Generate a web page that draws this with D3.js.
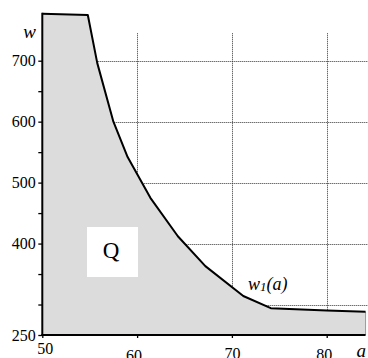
<!DOCTYPE html>
<html>
<head>
<meta charset="utf-8">
<script src="https://cdn.jsdelivr.net/npm/d3@7"></script>
</head>
<body style="margin:0">
<script>
// boundary curve w1(a)
const aVals = [50, 54.8, 55.8, 57.5, 59, 61.4, 64.3, 67.2, 71.2, 74.1, 80, 84.1];
const wVals = [777, 775, 696, 600, 542, 475, 412, 363, 314, 294, 290, 288];

const yTicks = [250, 300, 350, 400, 450, 500, 550, 600, 650, 700];
const yLabels = [250, 400, 500, 600, 700];
const xTicks = [50, 60, 70, 80];
const gridA = [60, 70, 80];
const gridW = [300, 400, 500, 600, 700];

const width = 368, height = 358;
const serif = '"Liberation Serif"';
const pts = aVals.map((a, i) => ({a: a, w: wVals[i]}));

const x = d3.scaleLinear().domain([50, 80]).range([42.3, 326.7]);
const y = d3.scaleLinear().domain([250, 700]).range([335, 60.7]);

const svg = d3.select("body").append("svg")
  .attr("width", width)
  .attr("height", height)
  .style("display", "block");

// dotted grid, sits under the shaded region
const grid = svg.append("g")
  .attr("stroke", "#333")
  .attr("stroke-width", 1)
  .attr("stroke-dasharray", "1,1");

grid.selectAll("line.v")
  .data(gridA)
  .join("line")
  .attr("class", "v")
  .attr("x1", d => Math.round(x(d)) + 0.5)
  .attr("x2", d => Math.round(x(d)) + 0.5)
  .attr("y1", y(745))
  .attr("y2", y(250));

grid.selectAll("line.h")
  .data(gridW)
  .join("line")
  .attr("class", "h")
  .attr("x1", x(50))
  .attr("x2", x(86))
  .attr("y1", d => Math.round(y(d)) + 0.5)
  .attr("y2", d => Math.round(y(d)) + 0.5);

// region Q
const area = d3.area()
  .x(d => x(d.a))
  .y0(y(250))
  .y1(d => y(d.w));

svg.append("path")
  .datum(pts)
  .attr("d", area)
  .attr("fill", "#dcdcdc");

const last = pts[pts.length - 1];
svg.append("line")
  .attr("x1", x(last.a)).attr("x2", x(last.a))
  .attr("y1", y(last.w)).attr("y2", y(250))
  .attr("stroke", "#999")
  .attr("stroke-width", 1);

// label box
svg.append("rect")
  .attr("x", 87)
  .attr("y", 227)
  .attr("width", 51)
  .attr("height", 50)
  .attr("fill", "#fff");

svg.append("text")
  .attr("x", 111)
  .attr("y", 258)
  .attr("text-anchor", "middle")
  .attr("font-size", 23)
  .text("Q");

// curve
const line = d3.line()
  .x(d => x(d.a))
  .y(d => y(d.w));

svg.append("path")
  .datum(pts)
  .attr("d", line)
  .attr("fill", "none")
  .attr("stroke", "#000")
  .attr("stroke-width", 2)
  .attr("stroke-linejoin", "round");

// axes
const yAxis = svg.append("g")
  .attr("transform", `translate(${x(50)},0)`)
  .call(d3.axisLeft(y)
    .tickValues(yTicks)
    .tickSize(4)
    .tickSizeOuter(0)
    .tickFormat(d => yLabels.includes(d) ? d : ""));
yAxis.select(".domain").remove();
yAxis.selectAll("line").attr("stroke", "#000").attr("stroke-width", 1.3);
yAxis.selectAll("text")
  .attr("x", -6.5)
  .attr("font-size", 16);

const xShift = {50: [2.4, 2], 60: [-3.5, 8.5], 70: [0, 6.5], 80: [-3, 7.5]};
const xAxis = svg.append("g")
  .attr("transform", `translate(0,${y(250)})`)
  .call(d3.axisBottom(x)
    .tickValues(xTicks)
    .tickSize(3)
    .tickSizeOuter(0));
xAxis.select(".domain").remove();
xAxis.selectAll("line").attr("stroke", "#000").attr("stroke-width", 1.3);
xAxis.selectAll("text")
  .attr("transform", d => `translate(${xShift[d][0]},${xShift[d][1]})`)
  .attr("font-size", 16);

svg.append("line")
  .attr("x1", x(50)).attr("x2", x(50))
  .attr("y1", y(wVals[0]) - 1).attr("y2", y(250) + 1)
  .attr("stroke", "#000").attr("stroke-width", 2);

svg.append("line")
  .attr("x1", x(50) - 1).attr("x2", x(last.a))
  .attr("y1", y(250)).attr("y2", y(250))
  .attr("stroke", "#000").attr("stroke-width", 2);

// axis names
svg.append("text")
  .attr("x", 36)
  .attr("y", 38)
  .attr("text-anchor", "end")
  .attr("font-size", 19)
  .attr("font-style", "italic")
  .text("w");

svg.append("text")
  .attr("x", 356.5)
  .attr("y", 357)
  .attr("font-size", 19)
  .attr("font-style", "italic")
  .text("a");

const wl = svg.append("text")
  .attr("x", 248)
  .attr("y", 290)
  .attr("font-size", 18)
  .attr("font-style", "italic");
wl.append("tspan").text("w");
wl.append("tspan").attr("dy", 1).attr("font-size", 13).text("1");
wl.append("tspan").attr("dy", -1).text("(a)");

svg.selectAll("g").attr("font-family", null).attr("font-size", null);
svg.selectAll("text")
  .attr("font-family", "Liberation Serif")
  .style("font-family", serif)
  .attr("fill", "#000");
</script>
</body>
</html>
